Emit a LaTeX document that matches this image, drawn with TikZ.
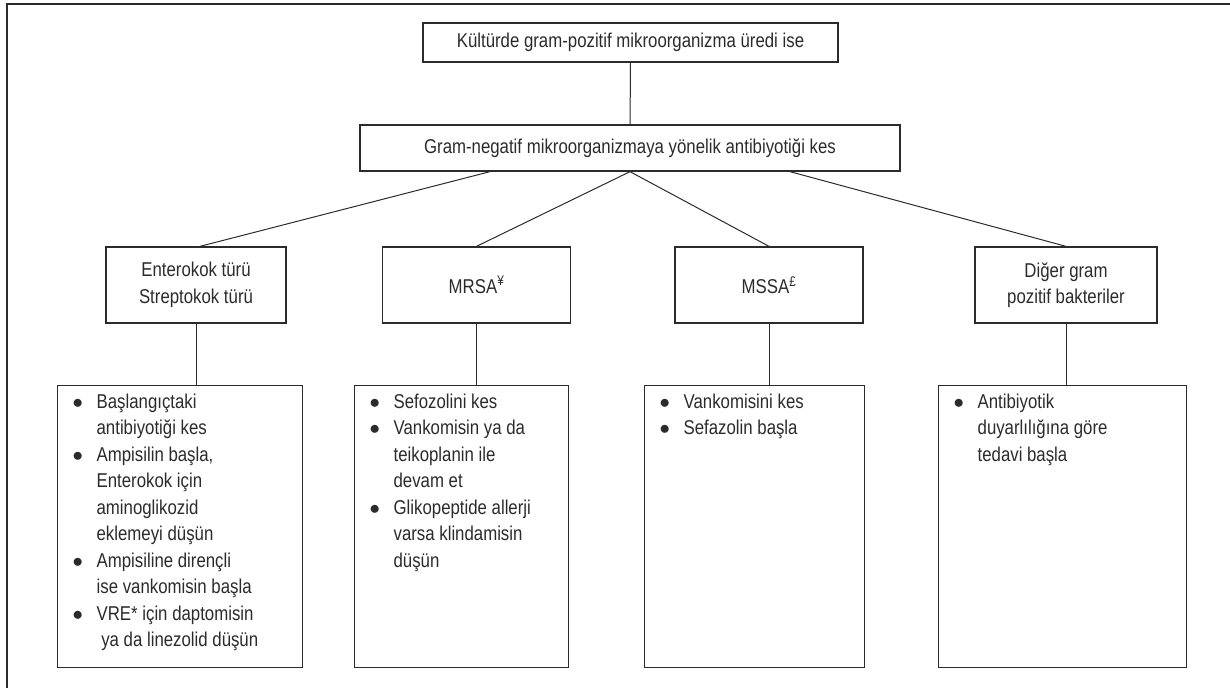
\documentclass[tikz,border=0pt]{standalone}
\usepackage{fontspec}
\setmainfont{Liberation Sans}[FakeStretch=0.84]
\usetikzlibrary{calc}

\definecolor{ink}{HTML}{2B2B2B}
\tikzset{
	box/.style={draw=ink, line width=1.3pt, align=center, inner sep=0pt},
	link/.style={draw=ink, line width=1pt},
}
% list box: height, width, body
\newcommand{\lstbody}[3]{\begin{minipage}[t][#1][t]{#2}\vspace*{4pt}%
	\begin{tabular}{@{\hspace{15pt}}p{24pt}@{}l@{}}#3\end{tabular}\end{minipage}}
\newcommand{\blt}{$\bullet$}

\begin{document}
\begin{tikzpicture}[x=1pt, y=-1pt, font=\fontsize{20}{26.5}\selectfont, text=ink]
	\useasboundingbox (0,0) rectangle (1230,688);
	\draw[ink, line width=1.3pt] (1230,4) -- (7,4) -- (7,688);

	\node[box, minimum width=415pt, minimum height=39pt] (gpos) at (630.5,42.5) {Kültürde gram-pozitif mikroorganizma üredi ise};
	\node[box, minimum width=540pt, minimum height=46pt] (gneg) at (630,148) {Gram-negatif mikroorganizmaya yönelik antibiyotiği kes};

	\node[box, minimum width=180pt, minimum height=76pt] (ent) at (196,285) {Enterokok türü\\Streptokok türü};
	\node[box, minimum width=188pt, minimum height=76pt] (mrsa) at (476.5,285) {MRSA\textsuperscript{¥}};
	\node[box, minimum width=188pt, minimum height=76pt] (mssa) at (769,285) {MSSA\textsuperscript{£}};
	\node[box, minimum width=182pt, minimum height=76pt] (diger) at (1066,285) {Diğer gram\\pozitif bakteriler};

	\node[box, anchor=north west] (lst1) at (57,385) {\lstbody{282pt}{245pt}{%
		\blt & Başlangıçtaki\\ & antibiyotiği kes\\
		\blt & Ampisilin başla,\\ & Enterokok için\\ & aminoglikozid\\ & eklemeyi düşün\\
		\blt & Ampisiline dirençli\\ & ise vankomisin başla\\
		\blt & VRE* için daptomisin\\ & \ ya da linezolid düşün}};
	\node[box, anchor=north west] (lst2) at (354,385) {\lstbody{282pt}{214pt}{%
		\blt & Sefozolini kes\\
		\blt & Vankomisin ya da\\ & teikoplanin ile\\ & devam et\\
		\blt & Glikopeptide allerji\\ & varsa klindamisin\\ & düşün}};
	\node[box, anchor=north west] (lst3) at (644,385) {\lstbody{282pt}{220pt}{%
		\blt & Vankomisini kes\\
		\blt & Sefazolin başla}};
	\node[box, anchor=north west] (lst4) at (938,385) {\lstbody{282pt}{248pt}{%
		\blt & Antibiyotik\\ & duyarlılığına göre\\ & tedavi başla}};

	\draw[link] (gpos) -- (gneg);
	\draw[link] ($(gneg.south)+(-140,0)$) -- ($(ent.north)+(4,0)$);
	\draw[link] (gneg.south) -- (mrsa.north);
	\draw[link] (gneg.south) -- (mssa.north);
	\draw[link] ($(gneg.south)+(160,0)$) -- (diger.north);
	\draw[link] (ent.south) -- (ent.south |- lst1.north);
	\draw[link] (mrsa.south) -- (mrsa.south |- lst2.north);
	\draw[link] (mssa.south) -- (mssa.south |- lst3.north);
	\draw[link] (diger.south) -- (diger.south |- lst4.north);
\end{tikzpicture}
\end{document}
